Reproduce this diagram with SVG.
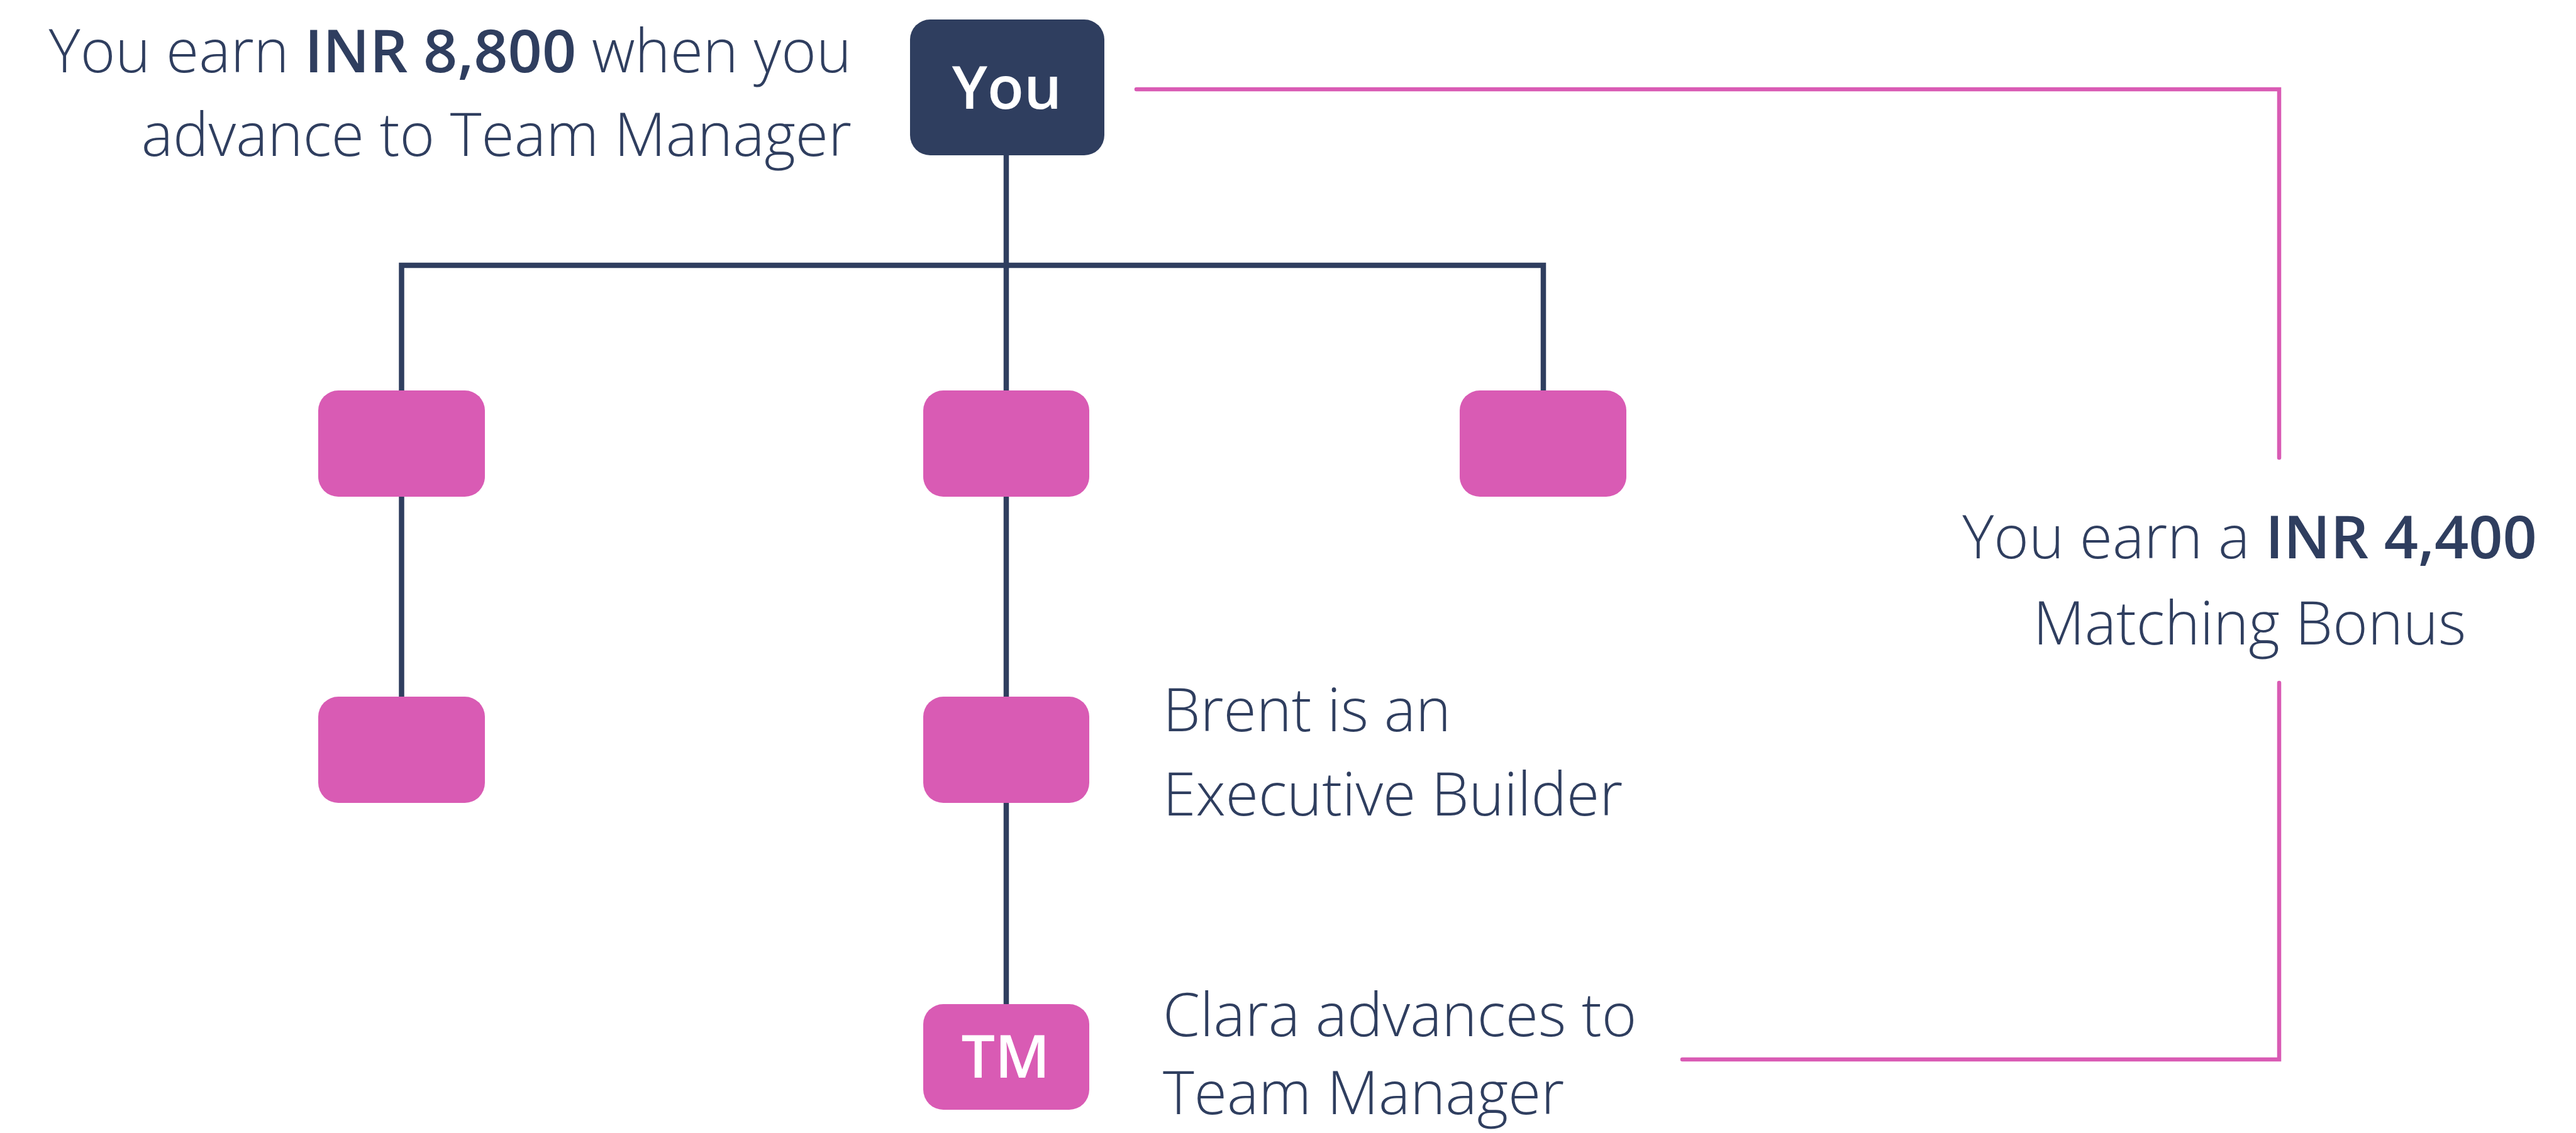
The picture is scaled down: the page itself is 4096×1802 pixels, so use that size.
<svg xmlns="http://www.w3.org/2000/svg" width="4096" height="1802" viewBox="0 0 4096 1802">
<style>
.lbl{font-family:"Open Sans","Liberation Sans",sans-serif;font-weight:300;font-size:95px;fill:#2f3e5f}
.b{font-weight:600}
.nt{font-family:"Open Sans","Liberation Sans",sans-serif;font-weight:600;font-size:95px;fill:#ffffff;text-anchor:middle}
.navy{fill:none;stroke:#2f3e5f;stroke-width:8.5;stroke-linejoin:miter}
.pinkl{fill:none;stroke:#d95bb4;stroke-width:6.5;stroke-linecap:round;stroke-linejoin:miter}
.pbox{fill:#d95bb4}
</style>
<rect width="4096" height="1802" fill="#ffffff"/>
<g id="connectors">
<path class="navy" d="M1600,247 V1597"/>
<path class="navy" d="M638.5,1108 V422 H2454 V621"/>
<path class="pinkl" d="M1807,142 H3624 V728"/>
<path class="pinkl" d="M3624,1086 V1685 H2675"/>
</g>
<g id="node-you">
<rect x="1447" y="31" width="309" height="216" rx="32" fill="#2f3e5f"/>
<text class="nt" x="1601" y="173">You</text>
</g>
<g id="node-l1"><rect class="pbox" x="506" y="621" width="265" height="169" rx="32"/></g>
<g id="node-m1"><rect class="pbox" x="1468" y="621" width="264" height="169" rx="32"/></g>
<g id="node-r1"><rect class="pbox" x="2321" y="621" width="265" height="169" rx="32"/></g>
<g id="node-l2"><rect class="pbox" x="506" y="1108" width="265" height="169" rx="32"/></g>
<g id="node-m2"><rect class="pbox" x="1468" y="1108" width="264" height="169" rx="32"/></g>
<g id="node-tm">
<rect class="pbox" x="1468" y="1597" width="264" height="168" rx="32"/>
<text class="nt" x="1599" y="1714">TM</text>
</g>
<g id="label-top">
<text class="lbl" x="1354" y="115" text-anchor="end">You earn <tspan class="b">INR 8,800</tspan> when you</text>
<text class="lbl" x="1354" y="248" text-anchor="end">advance to Team Manager</text>
</g>
<g id="label-bonus">
<text class="lbl" x="3577" y="888" text-anchor="middle">You earn a <tspan class="b">INR 4,400</tspan></text>
<text class="lbl" x="3577" y="1025" text-anchor="middle">Matching Bonus</text>
</g>
<g id="label-brent">
<text class="lbl" x="1849" y="1163">Brent is an</text>
<text class="lbl" x="1849" y="1297">Executive Builder</text>
</g>
<g id="label-clara">
<text class="lbl" x="1849" y="1648">Clara advances to</text>
<text class="lbl" x="1849" y="1772">Team Manager</text>
</g>
</svg>
